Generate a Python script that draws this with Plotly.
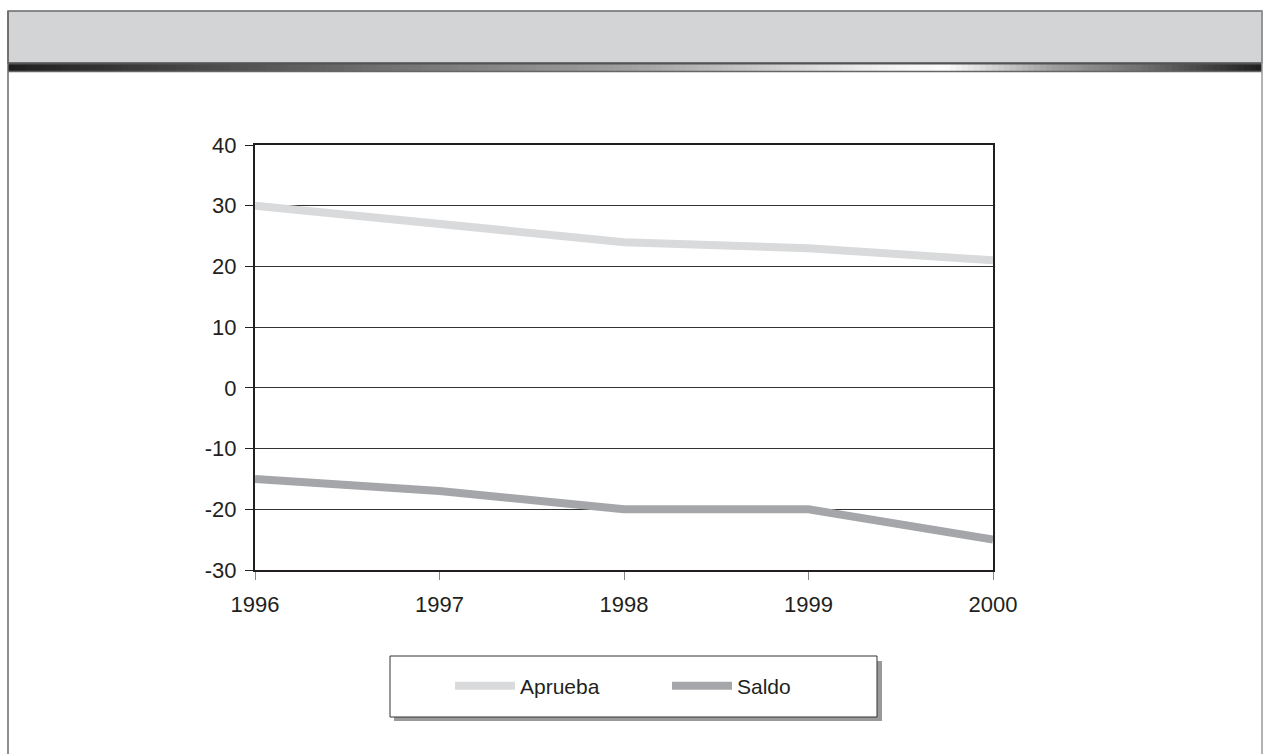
import plotly.graph_objects as go

years = ["1996", "1997", "1998", "1999", "2000"]
aprueba = [30, 27, 24, 23, 21]
saldo = [-15, -17, -20, -20, -25]
y_ticks = [-30, -20, -10, 0, 10, 20, 30, 40]
y_tick_labels = ["-30", "-20", "-10", "0", "10", "20", "30", "40"]

W, H = 1263, 754
L, R, T, B = 255, 993, 145, 570

def px(x):
    return (x - L) / (R - L)

def py(y):
    return (B - y) / (B - T)

fig = go.Figure()
fig.add_trace(go.Scatter(x=years, y=aprueba, name="Aprueba", mode="lines",
                         line=dict(color="#d9dadb", width=8)))
fig.add_trace(go.Scatter(x=years, y=saldo, name="Saldo", mode="lines",
                         line=dict(color="#a5a6a9", width=8)))

shapes = []
# header
shapes.append(dict(type="rect", xref="paper", yref="paper", x0=px(8), x1=px(1262), y0=py(11), y1=py(63),
                   fillcolor="#d3d4d6", line=dict(color="#6a6a6a", width=1.5), layer="below"))
# gradient band
stops = [(8, 30), (380, 112), (630, 160), (880, 240), (945, 252), (1050, 160), (1140, 112), (1262, 30)]
def shade(x):
    for (xa, ca), (xb, cb) in zip(stops, stops[1:]):
        if xa <= x <= xb:
            return ca + (cb - ca) * (x - xa) / (xb - xa)
    return 30
step = 6
x = 8
while x < 1262:
    x2 = min(x + step, 1262)
    c = int(round(shade((x + x2) / 2)))
    col = f"rgb({c},{c},{c})"
    shapes.append(dict(type="rect", xref="paper", yref="paper", x0=px(x), x1=px(x2), y0=py(64), y1=py(71),
                       fillcolor=col, line=dict(width=0), layer="below"))
    x = x2
shapes.append(dict(type="line", xref="paper", yref="paper", x0=px(8), x1=px(1262), y0=py(63.5), y1=py(63.5),
                   line=dict(color="#555555", width=2)))
shapes.append(dict(type="line", xref="paper", yref="paper", x0=px(8), x1=px(1262), y0=py(71.5), y1=py(71.5),
                   line=dict(color="#666666", width=1.5)))
# outer side borders
shapes.append(dict(type="line", xref="paper", yref="paper", x0=px(8), x1=px(8), y0=py(11), y1=py(754),
                   line=dict(color="#6a6a6a", width=1.5)))
shapes.append(dict(type="line", xref="paper", yref="paper", x0=px(1262), x1=px(1262), y0=py(11), y1=py(754),
                   line=dict(color="#9a9a9a", width=1.5)))
# legend box with shadow
shapes.append(dict(type="rect", xref="paper", yref="paper", x0=px(394), x1=px(882), y0=py(661), y1=py(721),
                   fillcolor="#9a9a9c", line=dict(width=0), layer="below"))
shapes.append(dict(type="rect", xref="paper", yref="paper", x0=px(390), x1=px(877), y0=py(656), y1=py(717),
                   fillcolor="white", line=dict(color="#333333", width=1), layer="below"))

fig.update_layout(
    width=W, height=H,
    margin=dict(l=L, r=W - R, t=T, b=H - B, pad=0),
    paper_bgcolor="white", plot_bgcolor="rgba(0,0,0,0)",
    font=dict(family="Liberation Sans, Arial, sans-serif", size=22, color="#231f20"),
    shapes=shapes,
    showlegend=True,
    legend=dict(orientation="h", x=px(450), xanchor="left", y=py(686), yanchor="middle",
                bgcolor="rgba(0,0,0,0)", borderwidth=0, entrywidth=142, entrywidthmode="pixels",
                itemwidth=60, font=dict(size=21, color="#231f20"), traceorder="normal"),
)
fig.update_xaxes(type="category", range=[0, 4], showgrid=False, showline=True, linecolor="#231f20",
                 linewidth=2, mirror=True, ticks="outside", ticklen=8, tickcolor="#888888", tickwidth=1,
                 tickfont=dict(size=22), ticklabelstandoff=6, zeroline=False)
fig.update_yaxes(range=[-30, 40], tickvals=y_ticks, ticktext=y_tick_labels, showgrid=True,
                 gridcolor="#333333", gridwidth=1,
                 showline=True, linecolor="#231f20", linewidth=2, mirror=True, ticks="outside",
                 ticklen=8, tickcolor="#231f20", tickfont=dict(size=22), zeroline=False, ticklabelstandoff=4)

fig.write_html("out.html")
